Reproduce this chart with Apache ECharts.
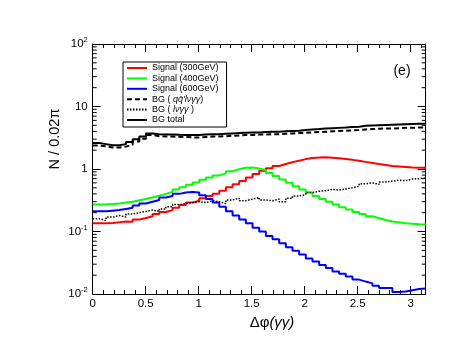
<!DOCTYPE html>
<html>
<head>
<meta charset="utf-8">
<script src="https://cdn.jsdelivr.net/npm/echarts@6/dist/echarts.min.js"></script>
<style>html,body{margin:0;padding:0;background:#fff}#main{width:463px;height:360px}</style>
</head>
<body>
<div id="main"></div>
<script>
// 50 bins of 0.02*pi over [0, pi]
var nBins = 50;
var binW = Math.PI / nBins;

var sig300 = [0.135,0.135,0.137,0.14,0.145,0.143,0.155,0.165,0.175,0.19,
              0.205,0.22,0.24,0.265,0.29,0.31,0.34,0.37,0.40,0.45,
              0.51,0.57,0.64,0.73,0.83,0.94,1.03,1.12,1.2,1.28,
              1.36,1.44,1.5,1.53,1.54,1.52,1.48,1.44,1.4,1.35,
              1.3,1.25,1.2,1.16,1.12,1.1,1.08,1.06,1.05,1.05];
var sig400 = [0.27,0.272,0.275,0.28,0.29,0.30,0.315,0.33,0.35,0.375,
              0.40,0.43,0.47,0.51,0.56,0.61,0.67,0.73,0.79,0.85,
              0.92,0.99,1.05,1.06,1.02,0.96,0.86,0.77,0.68,0.6,
              0.53,0.47,0.42,0.37,0.33,0.3,0.27,0.245,0.225,0.205,
              0.19,0.175,0.163,0.153,0.145,0.14,0.136,0.133,0.131,0.13];
var sig600 = [0.21,0.21,0.215,0.22,0.23,0.24,0.26,0.28,0.30,0.32,
              0.35,0.37,0.40,0.42,0.43,0.42,0.38,0.33,0.29,0.25,
              0.21,0.18,0.155,0.135,0.115,0.1,0.085,0.075,0.065,0.056,
              0.049,0.043,0.037,0.033,0.029,0.026,0.023,0.021,0.019,0.017,
              0.0158,0.0148,0.0135,0.0125,0.0125,0.0108,0.011,0.0115,0.012,0.0123];
var bgQQ = [2.38,2.3,2.2,2.2,2.28,2.45,2.75,3.05,3.5,3.35,
            3.3,3.3,3.28,3.25,3.2,3.2,3.25,3.3,3.3,3.35,
            3.4,3.45,3.5,3.5,3.55,3.55,3.6,3.6,3.65,3.7,
            3.75,3.8,3.85,3.9,3.95,4.0,4.05,4.1,4.15,4.2,
            4.3,4.35,4.4,4.45,4.45,4.5,4.55,4.55,4.6,4.6];
var bgLv = [0.16,0.15,0.17,0.18,0.17,0.19,0.2,0.21,0.22,0.21,
            0.23,0.25,0.27,0.28,0.29,0.3,0.29,0.31,0.3,0.28,
            0.32,0.34,0.31,0.33,0.35,0.32,0.31,0.33,0.3,0.34,
            0.37,0.39,0.42,0.44,0.45,0.47,0.46,0.48,0.5,0.53,
            0.58,0.6,0.57,0.62,0.64,0.66,0.65,0.69,0.7,0.72];
var bgTotal = [2.6,2.5,2.4,2.4,2.5,2.7,3.0,3.3,3.7,3.6,
               3.55,3.55,3.52,3.5,3.5,3.5,3.55,3.6,3.6,3.65,
               3.7,3.75,3.8,3.85,3.85,3.9,3.95,3.95,4.0,4.05,
               4.1,4.2,4.3,4.35,4.45,4.5,4.55,4.6,4.7,4.75,
               4.9,4.95,5.0,5.05,5.1,5.15,5.2,5.25,5.3,5.3];

var names = ['Signal (300GeV)', 'Signal (400GeV)', 'Signal (600GeV)',
             "BG ( qq\u0304'l\u03bd\u03b3\u03b3)", 'BG ( l\u03bd\u03b3\u03b3 )', 'BG total'];

// minor ticks of the log axis
var logMinor = [];
for (var k = -2; k < 2; k++) {
    for (var m = 2; m <= 9; m++) logMinor.push([0, m * Math.pow(10, k)]);
}

// bin contents -> step points at bin edges
function toSteps(vals) {
    var pts = [];
    for (var i = 0; i < vals.length; i++) pts.push([i * binW, vals[i]]);
    pts.push([vals.length * binW, vals[vals.length - 1]]);
    return pts;
}

function hist(name, vals, color, width, type) {
    return {
        name: name, type: 'line', step: 'end', data: toSteps(vals),
        symbol: 'none', showSymbol: false, silent: true,
        lineStyle: { color: color, width: width, type: type || 'solid' },
        itemStyle: { color: color }
    };
}

var font = 'Liberation Sans';
var chart = echarts.init(document.getElementById('main'));

chart.setOption({
    animation: false,
    backgroundColor: '#fff',
    textStyle: { fontFamily: font, color: '#000' },
    grid: { left: 92.7, right: 37.3, top: 44, bottom: 66 },
    legend: {
        data: names,
        orient: 'vertical',
        left: 123, top: 62,
        itemWidth: 20, itemHeight: 8, itemGap: 0.4,
        padding: [1, 8, 2, 3],
        borderColor: '#000', borderWidth: 1,
        selectedMode: false,
        itemStyle: { opacity: 0 },
        textStyle: {
            fontFamily: font, fontSize: 9, color: '#000', lineHeight: 10,
            rich: { i: { fontFamily: font, fontSize: 9, fontStyle: 'italic', color: '#000', lineHeight: 10 } }
        },
        formatter: function (n) {
            if (n === names[3]) return 'BG ( {i|qq\u0304\'l\u03bd\u03b3\u03b3})';
            if (n === names[4]) return 'BG ( {i|l\u03bd\u03b3\u03b3} )';
            return n;
        }
    },
    xAxis: [{
        type: 'value', min: 0, max: Math.PI, interval: 0.5,
        axisLine: { show: true, onZero: false, lineStyle: { color: '#000', width: 1 } },
        axisTick: { show: true, inside: true, length: 8, lineStyle: { color: '#000' } },
        minorTick: { show: true, splitNumber: 5, length: 4, lineStyle: { color: '#000' } },
        splitLine: { show: false },
        axisLabel: {
            color: '#000', fontSize: 11.5, fontFamily: font, margin: 4,
            showMaxLabel: false,
            formatter: function (v) {
                var r = Math.round(v * 2) / 2;
                return Math.abs(v - r) > 1e-6 ? '' : String(r);
            }
        }
    }, {
        type: 'value', min: 0, max: Math.PI, interval: 0.5, position: 'top',
        axisLine: { show: true, onZero: false, lineStyle: { color: '#000', width: 1 } },
        axisTick: { show: true, inside: true, length: 8, lineStyle: { color: '#000' } },
        minorTick: { show: true, splitNumber: 5, length: 4, lineStyle: { color: '#000' } },
        splitLine: { show: false },
        axisLabel: { show: false }
    }],
    yAxis: [{
        type: 'log', logBase: 10, min: 0.01, max: 100,
        axisLine: { show: true, onZero: false, lineStyle: { color: '#000', width: 1 } },
        axisTick: { show: true, inside: true, length: 8, lineStyle: { color: '#000' } },
        splitLine: { show: false },
        axisLabel: {
            color: '#000', fontFamily: font, margin: 5,
            formatter: function (v) {
                var e = Math.round(Math.log10(v));
                if (e === 0) return '{b|1}';
                if (e === 1) return '{b|10}';
                return '{b|10}{s|' + e + '}';
            },
            rich: {
                b: { fontSize: 11.5, fontFamily: font, color: '#000', lineHeight: 16 },
                s: { fontSize: 7.5, fontFamily: font, color: '#000', verticalAlign: 'top', lineHeight: 9 }
            }
        }
    }, {
        type: 'log', logBase: 10, min: 0.01, max: 100, position: 'right',
        axisLine: { show: true, onZero: false, lineStyle: { color: '#000', width: 1 } },
        axisTick: { show: true, inside: true, length: 8, lineStyle: { color: '#000' } },
        splitLine: { show: false },
        axisLabel: { show: false }
    }],
    graphic: [
        { type: 'text', x: 402, y: 71, style: { text: '(e)', font: '14px "Liberation Sans"', fill: '#000', align: 'center', verticalAlign: 'middle' } },
        { type: 'text', x: 272, y: 323, style: {
            text: '{a|\u0394\u03c6}{b|(\u03b3\u03b3)}', align: 'center', verticalAlign: 'middle',
            rich: { a: { fontSize: 15, fontFamily: font, fill: '#000' }, b: { fontSize: 15, fontFamily: font, fontStyle: 'italic', fill: '#000' } }
        } },
        { type: 'text', x: 55, y: 139, rotation: Math.PI / 2, style: {
            text: 'N / 0.02\u03c0', font: '14.5px "Liberation Sans"', fill: '#000', align: 'center', verticalAlign: 'middle'
        } }
    ],
    series: [
        hist(names[0], sig300, '#ff0000', 2),
        hist(names[1], sig400, '#00ff00', 2),
        hist(names[2], sig600, '#0000ff', 2),
        hist(names[3], bgQQ, '#000', 2, [5, 3]),
        hist(names[4], bgLv, '#000', 1.5, [1.5, 1.5]),
        hist(names[5], bgTotal, '#000', 2),
        {
            type: 'custom', silent: true, clip: false, data: logMinor,
            renderItem: function (params, api) {
                var v = api.value(1);
                var l = api.coord([0, v]);
                var r = api.coord([Math.PI, v]);
                return {
                    type: 'group', children: [
                        { type: 'line', shape: { x1: l[0], y1: l[1], x2: l[0] + 4, y2: l[1] }, style: { stroke: '#000', lineWidth: 1 } },
                        { type: 'line', shape: { x1: r[0] - 4, y1: r[1], x2: r[0], y2: r[1] }, style: { stroke: '#000', lineWidth: 1 } }
                    ]
                };
            }
        }
    ]
});
</script>
</body>
</html>
